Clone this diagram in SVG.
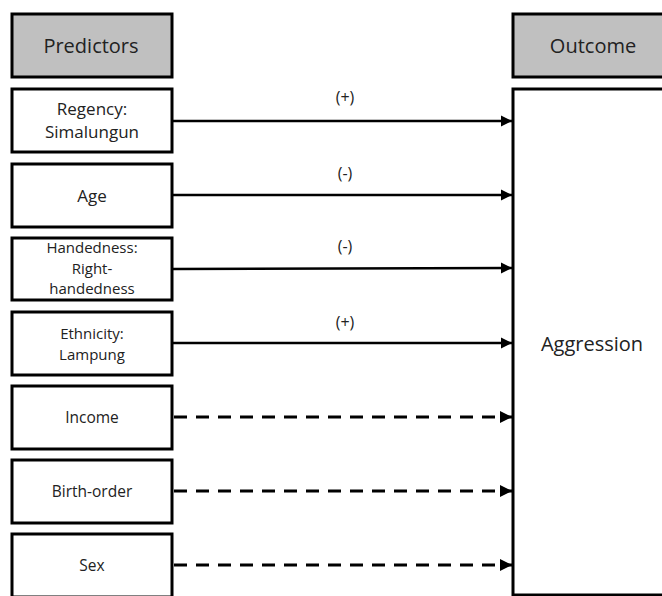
<svg xmlns="http://www.w3.org/2000/svg" width="662" height="596" viewBox="0 0 662 596">
<style>
.box{fill:#fff;stroke:#000;stroke-width:3}
.head{fill:#c0c0c0;stroke:#000;stroke-width:3}
text{font-family:"Open Sans","Noto Sans","Liberation Sans",sans-serif;fill:#222;text-anchor:middle}
.t20{font-size:20px}
.t17{font-size:17px}
.t15{font-size:15.5px}
.t14{font-size:15px}
.lab{font-size:16px}
.solid{stroke:#000;stroke-width:2.5;fill:none}
.dash{stroke:#000;stroke-width:3;fill:none;stroke-dasharray:13 9}
</style>
<defs>
<marker id="ah" viewBox="0 0 10 10" refX="10" refY="5" markerWidth="4.5" markerHeight="4.5" markerUnits="strokeWidth" orient="auto">
<path d="M0,0 L10,5 L0,10 z" fill="#000"/>
</marker>
<marker id="ahd" viewBox="0 0 10 10" refX="10" refY="5" markerWidth="4" markerHeight="4" markerUnits="strokeWidth" orient="auto">
<path d="M0,0 L10,5 L0,10 z" fill="#000"/>
</marker>
</defs>
<rect width="662" height="596" fill="#fff"/>
<g id="predictors"><rect class="head" x="12" y="14" width="160" height="63"/><text class="t20" x="91" y="53">Predictors</text></g>
<g id="outcome"><rect class="head" x="513" y="14" width="160" height="63"/><text class="t20" x="593" y="53">Outcome</text></g>
<g id="aggression"><rect class="box" x="513" y="89" width="160" height="506"/><text class="t20" x="592" y="351">Aggression</text></g>
<g id="regency"><rect class="box" x="12" y="89" width="160" height="63"/><text class="t17" x="92" y="115">Regency:</text><text class="t17" x="92" y="138">Simalungun</text></g>
<g id="age"><rect class="box" x="12" y="164" width="160" height="63"/><text class="t17" x="92" y="202">Age</text></g>
<g id="handedness"><rect class="box" x="12" y="238" width="160" height="62"/><text class="t14" x="92" y="253">Handedness:</text><text class="t14" x="92" y="274">Right-</text><text class="t14" x="92" y="294">handedness</text></g>
<g id="ethnicity"><rect class="box" x="12" y="312" width="160" height="63"/><text class="t14" x="92" y="339">Ethnicity:</text><text class="t14" x="92" y="360">Lampung</text></g>
<g id="income"><rect class="box" x="12" y="386" width="160" height="63"/><text class="t15" x="92" y="423">Income</text></g>
<g id="birthorder"><rect class="box" x="12" y="460" width="160" height="63"/><text class="t15" x="92" y="497">Birth-order</text></g>
<g id="sex"><rect class="box" x="12" y="534" width="160" height="63"/><text class="t15" x="92" y="571">Sex</text></g>
<g id="connectors">
<line class="solid" x1="173" y1="121" x2="512" y2="121" marker-end="url(#ah)"/>
<line class="solid" x1="173" y1="195" x2="512" y2="195" marker-end="url(#ah)"/>
<line class="solid" x1="173" y1="269" x2="512" y2="268" marker-end="url(#ah)"/>
<line class="solid" x1="173" y1="343" x2="512" y2="343" marker-end="url(#ah)"/>
<line class="dash" x1="174" y1="417" x2="512" y2="417" marker-end="url(#ahd)"/>
<line class="dash" x1="174" y1="491" x2="512" y2="491" marker-end="url(#ahd)"/>
<line class="dash" x1="174" y1="565" x2="512" y2="565" marker-end="url(#ahd)"/>
<text class="lab" x="345" y="103">(+)</text>
<text class="lab" x="345" y="179">(-)</text>
<text class="lab" x="345" y="252">(-)</text>
<text class="lab" x="345" y="328">(+)</text>
</g>
</svg>
